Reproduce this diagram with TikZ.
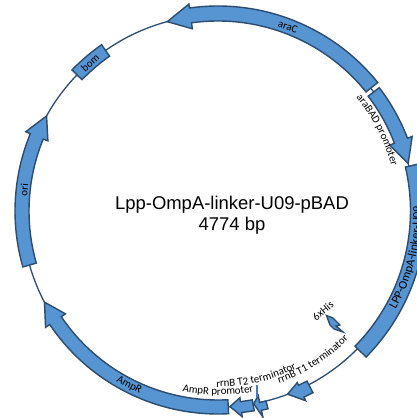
\documentclass[tikz,border=0pt]{standalone}
\usepackage{fontspec}
\setmainfont{Carlito}
\newfontfamily\titlefont{Liberation Sans}
\usetikzlibrary{calc,decorations.text}
\definecolor{cFeat}{HTML}{5694D2}
\definecolor{cEdge}{HTML}{2C4C70}
\definecolor{cLead}{HTML}{4A78C0}
\newcommand{\lblfont}{\fontsize{3.1pt}{3.6pt}\selectfont}
\newcommand{\lppfont}{\fontsize{3.45pt}{3.9pt}\selectfont}
\tikzset{
  feat/.style={draw=cEdge,fill=cFeat,line width=.14mm,line join=miter},
  backbone/.style={draw=cEdge,line width=.13mm},
  lbl/.style={font=\lblfont,inner sep=0pt},
  title/.style={font=\titlefont\fontsize{5.25pt}{6.05pt}\selectfont,inner sep=0pt,align=center},
  bent/.style={decorate,decoration={text along path,text align=center,text={|\lblfont|#1}}},
  bentbig/.style={decorate,decoration={text along path,text align=center,text={|\lppfont|#1}}},
}
\newcommand{\rB}{1.96}
\newcommand{\rN}{1.84}
\begin{document}
\begin{tikzpicture}
  \useasboundingbox (0,0) rectangle (4.17,4.18);
  \clip (0,0) rectangle (4.17,4.18);
  \begin{scope}[shift={(2.18,2.07)}]
    \draw[backbone] (0,0) circle (\rB);
    % long arrows: tail / head base / tip / band radii / wing radius
    \foreach \tl/\bs/\tp/\ri/\ro/\wo in {38.8/98/105/1.90/2.05/2.09,37.4/21/14/1.89/2.03/2.08,
        273/214/207.7/1.89/2.03/2.08,196/157.6/151/1.89/2.03/2.08}{
      \filldraw[feat] (\tl:\ro) arc[start angle=\tl,end angle=\bs,radius=\ro] -- (\bs:\wo)
        -- (\tp:\rB) -- (\bs:\rN) -- (\bs:\ri) arc[start angle=\bs,end angle=\tl,radius=\ri] -- cycle;
    }
    % plain boxes
    \foreach \st/\en/\ri/\ro in {13.2/-44.6/1.925/2.08,125/136/1.89/2.03}{
      \filldraw[feat] (\st:\ro) arc[start angle=\st,end angle=\en,radius=\ro] -- (\en:\ri)
        arc[start angle=\en,end angle=\st,radius=\ri] -- cycle;
    }
    % small arrows near the bottom: tail / base / tip / stem radii / wing radii
    \foreach \tl/\bs/\tp/\si/\so/\wi/\wo in {-62.4/-65.2/-69.2/1.92/2.05/1.89/2.09,
        -75.8/-77.7/-79.5/1.96/2.04/1.89/2.11,-79.7/-83.3/-86.5/1.92/2.03/1.88/2.07}{
      \filldraw[feat] (\tl:\so) -- (\bs:\so) -- (\bs:\wo) -- (\tp:\rB) -- (\bs:\wi)
        -- (\bs:\si) -- (\tl:\si) -- cycle;
    }
    % bent labels
    \path[bent={araBAD promoter}] (40:1.79) arc[start angle=40,end angle=14,radius=1.79];
    \path[bentbig={LPP-OmpA-linker-U09}] (-30:2.03) arc[start angle=-30,end angle=2.5,radius=2.03];
    \path[bent={rrnB T1 terminator}] (-71:1.83) arc[start angle=-71,end angle=-44,radius=1.83];
    \path[bent={rrnB T2 terminator}] (-91:1.76) arc[start angle=-91,end angle=-63,radius=1.76];
    \path[bent={AmpR promoter}] (-102:1.84) arc[start angle=-102,end angle=-78,radius=1.84];
  \end{scope}
  % 6xHis
  \filldraw[feat] (3.265,1.025) -- (3.33,1.0) -- (3.40,0.93) -- (3.36,0.92) -- (3.43,0.86)
    -- (3.34,0.89) -- (3.30,0.93) -- cycle;
  \coordinate (leadA) at (2.57,0.33);
  \coordinate (leadB) at (2.57,0.21);
  \draw[cLead,line width=.13mm] (leadA) -- (leadB);
  \node[title] (name) at (2.32,2.03) {Lpp-OmpA-linker-U09-pBAD\\4774 bp};
  \node[lbl,rotate=-20] (araC) at (2.88,3.91) {araC};
  \node[lbl,rotate=40] (his) at (3.23,1.07) {6xHis};
  \node[lbl,rotate=-28] (amp) at (1.29,0.33) {AmpR};
  \node[lbl,rotate=85] (ori) at (0.24,2.28) {ori};
  \node[lbl,rotate=42] (bom) at (0.9,3.55) {bom};
\end{tikzpicture}
\end{document}
